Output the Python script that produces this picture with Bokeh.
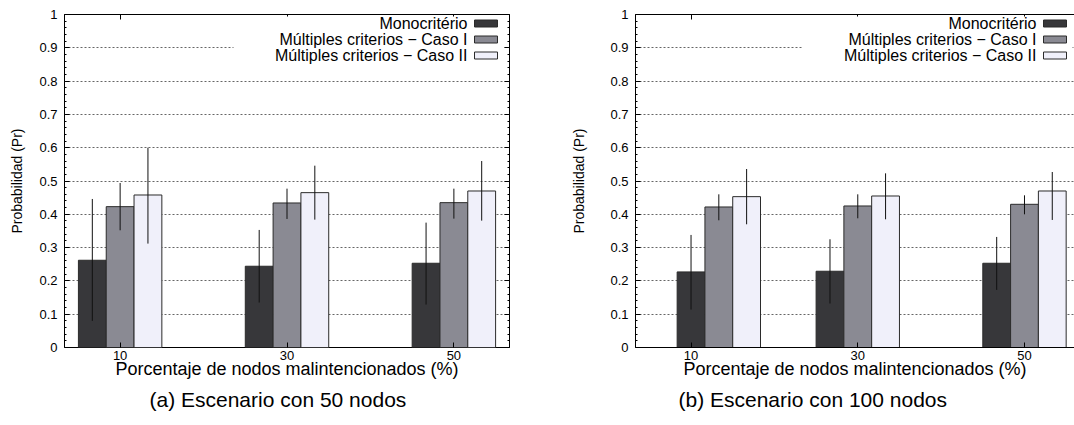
from bokeh.plotting import figure
from bokeh.models import (FixedTicker, LinearAxis, Range1d, Title, Label,
                          BoxAnnotation, CustomJSTickFormatter, ColumnDataSource)
from bokeh.layouts import row
from bokeh.embed import file_html
from bokeh.resources import INLINE

# ---------------- data ----------------
categories = [10, 30, 50]
series_names = ["Monocritério", "Múltiples criterios − Caso I", "Múltiples criterios − Caso II"]
y_ticks = [0, 0.1, 0.2, 0.3, 0.4, 0.5, 0.6, 0.7, 0.8, 0.9, 1]
y_tick_labels = ["0", "0.1", "0.2", "0.3", "0.4", "0.5", "0.6", "0.7", "0.8", "0.9", "1"]
x_label = "Porcentaje de nodos malintencionados (%)"
y_label = "Probabilidad (Pr)"

# (a) Escenario con 50 nodos
a_caption = "(a) Escenario con 50 nodos"
a_positions = [10, 30, 50]
a_mono = [0.262, 0.244, 0.253]
a_mono_low = [0.080, 0.135, 0.129]
a_mono_high = [0.446, 0.353, 0.375]
a_caso1 = [0.423, 0.434, 0.435]
a_caso1_low = [0.352, 0.386, 0.387]
a_caso1_high = [0.494, 0.477, 0.477]
a_caso2 = [0.458, 0.465, 0.470]
a_caso2_low = [0.312, 0.384, 0.381]
a_caso2_high = [0.600, 0.546, 0.560]

# (b) Escenario con 100 nodos (first group drawn one bar to the right, as in the original)
b_caption = "(b) Escenario con 100 nodos"
b_positions = [13.33, 30, 50]
b_mono = [0.227, 0.229, 0.253]
b_mono_low = [0.114, 0.132, 0.173]
b_mono_high = [0.338, 0.325, 0.332]
b_caso1 = [0.422, 0.425, 0.430]
b_caso1_low = [0.382, 0.388, 0.400]
b_caso1_high = [0.460, 0.460, 0.457]
b_caso2 = [0.453, 0.455, 0.470]
b_caso2_low = [0.370, 0.385, 0.383]
b_caso2_high = [0.536, 0.523, 0.527]

# ---------------- style ----------------
FONT = "Liberation Sans"
COLORS = ["#37373a", "#8a8a93", "#f0f0fa"]
BAR_W = 10 / 3
HEIGHT = 425
FRAME_TOP = 14
FRAME_H = 333

empty_fmt = "return ''"


def panel(positions, means, lows, highs, x_start, x_end, width, b_left, b_right,
          ylabel_standoff, caption, caption_offset, cropped, legend_shift):
    frame_w = width - b_left - b_right
    p = figure(width=width, height=HEIGHT, x_range=Range1d(x_start, x_end),
               y_range=Range1d(0, 1), output_backend="svg", toolbar_location=None,
               min_border_left=b_left, min_border_right=b_right,
               min_border_top=FRAME_TOP, min_border_bottom=HEIGHT - FRAME_TOP - FRAME_H)
    p.background_fill_color = "white"
    p.border_fill_color = "white"
    if cropped:
        p.outline_line_color = None
        edge = "black"
    else:
        p.outline_line_color = "black"
        p.outline_line_width = 1
        p.outline_line_alpha = 1
        edge = None

    p.xgrid.visible = False
    p.ygrid.grid_line_color = "#666666"
    p.ygrid.grid_line_dash = "2 2"
    p.ygrid.grid_line_width = 1

    minor = [i / 50 for i in range(51)]
    yfmt = CustomJSTickFormatter(args=dict(yt=y_ticks, yl=y_tick_labels),
                                 code="const k = yt.findIndex(t => Math.abs(t - tick) < 1e-9); return k >= 0 ? yl[k] : '';")
    ya = p.yaxis[0]
    ya.ticker = FixedTicker(ticks=y_ticks, minor_ticks=minor)
    ya.formatter = yfmt
    ya.major_tick_in = 5
    ya.major_tick_out = 0
    ya.minor_tick_in = 2
    ya.minor_tick_out = 0
    ya.axis_line_color = edge
    ya.major_label_standoff = 7
    ya.major_label_text_font = FONT
    ya.major_label_text_font_size = "13px"
    ya.major_label_text_color = "black"
    ya.axis_label = y_label
    ya.axis_label_text_font = FONT
    ya.axis_label_text_font_size = "14px"
    ya.axis_label_text_font_style = "normal"
    ya.axis_label_text_color = "black"
    ya.axis_label_standoff = ylabel_standoff

    xa = p.xaxis[0]
    xa.ticker = FixedTicker(ticks=categories)
    xa.major_tick_in = 5
    xa.major_tick_out = 0
    xa.minor_tick_in = 0
    xa.minor_tick_out = 0
    xa.axis_line_color = edge
    xa.major_label_standoff = 3
    xa.major_label_text_font = FONT
    xa.major_label_text_font_size = "13px"
    xa.major_label_text_color = "black"
    xa.axis_label = x_label
    xa.axis_label_text_font = FONT
    xa.axis_label_text_font_size = "18px"
    xa.axis_label_text_font_style = "normal"
    xa.axis_label_text_color = "black"
    xa.axis_label_standoff = -4

    top = LinearAxis(ticker=FixedTicker(ticks=categories),
                     formatter=CustomJSTickFormatter(code=empty_fmt),
                     major_tick_in=5, major_tick_out=0, minor_tick_in=0, minor_tick_out=0,
                     axis_line_color=edge, major_label_standoff=0)
    p.add_layout(top, "above")
    if not cropped:
        right = LinearAxis(ticker=FixedTicker(ticks=y_ticks, minor_ticks=minor),
                           formatter=CustomJSTickFormatter(code=empty_fmt),
                           major_tick_in=5, major_tick_out=0, minor_tick_in=2, minor_tick_out=0,
                           axis_line_color=None, major_label_standoff=0)
        p.add_layout(right, "right")

    for i in range(3):
        xs = [pos + (i - 1) * BAR_W for pos in positions]
        src = ColumnDataSource(dict(x=xs, top=means[i]))
        p.vbar(x="x", top="top", bottom=0, width=BAR_W, source=src,
               fill_color=COLORS[i], line_color="#2b2b2b", line_width=1)
    for i in range(3):
        xs = [pos + (i - 1) * BAR_W for pos in positions]
        src = ColumnDataSource(dict(x=xs, low=lows[i], high=highs[i]))
        p.segment(x0="x", y0="low", x1="x", y1="high", source=src,
                  line_color="#111111", line_width=1)

    # legend (gnuplot style: text right-aligned, sample on the right)
    sx = (x_end - x_start) / frame_w

    def fx(px_from_right):
        return x_end - (px_from_right - legend_shift) * sx

    def fy(px_from_top):
        return 1 - px_from_top / FRAME_H

    p.add_layout(BoxAnnotation(left=fx(276), right=fx(6), top=fy(2), bottom=fy(49),
                               fill_color="white", fill_alpha=1, line_color=None))
    for i, name in enumerate(series_names):
        rowy = 9 + 16 * i
        p.add_layout(Label(x=fx(42), y=fy(rowy), text=name, text_align="right",
                           text_baseline="middle", text_font=FONT, text_font_size="16px",
                           text_color="black"))
        p.add_layout(BoxAnnotation(left=fx(35), right=fx(12), top=fy(rowy - 3.5),
                                   bottom=fy(rowy + 3.5), fill_color=COLORS[i], fill_alpha=1,
                                   line_color="#2b2b2b", line_width=1, line_alpha=1))

    p.add_layout(Title(text=caption, align="left", text_font=FONT, text_font_size="21px",
                       text_font_style="normal", text_color="black", offset=caption_offset,
                       standoff=9), "below")
    return p


pa = panel(a_positions, [a_mono, a_caso1, a_caso2],
           [a_mono_low, a_caso1_low, a_caso2_low],
           [a_mono_high, a_caso1_high, a_caso2_high],
           categories[0] - 2 * BAR_W, categories[-1] + 2 * BAR_W,
           540, 64, 31, 11, a_caption, 85, False, 0)
# panel (b) is cut at the right edge of the picture, as in the original
pb = panel(b_positions, [b_mono, b_caso1, b_caso2],
           [b_mono_low, b_caso1_low, b_caso2_low],
           [b_mono_high, b_caso1_high, b_caso2_high],
           categories[0] - 2 * BAR_W, categories[-1] + 1.8 * BAR_W,
           534, 95, 0, 20, b_caption, 43, True, 4)

layout = row(pa, pb, spacing=0)
open("out.html", "w").write(file_html(layout, INLINE))
